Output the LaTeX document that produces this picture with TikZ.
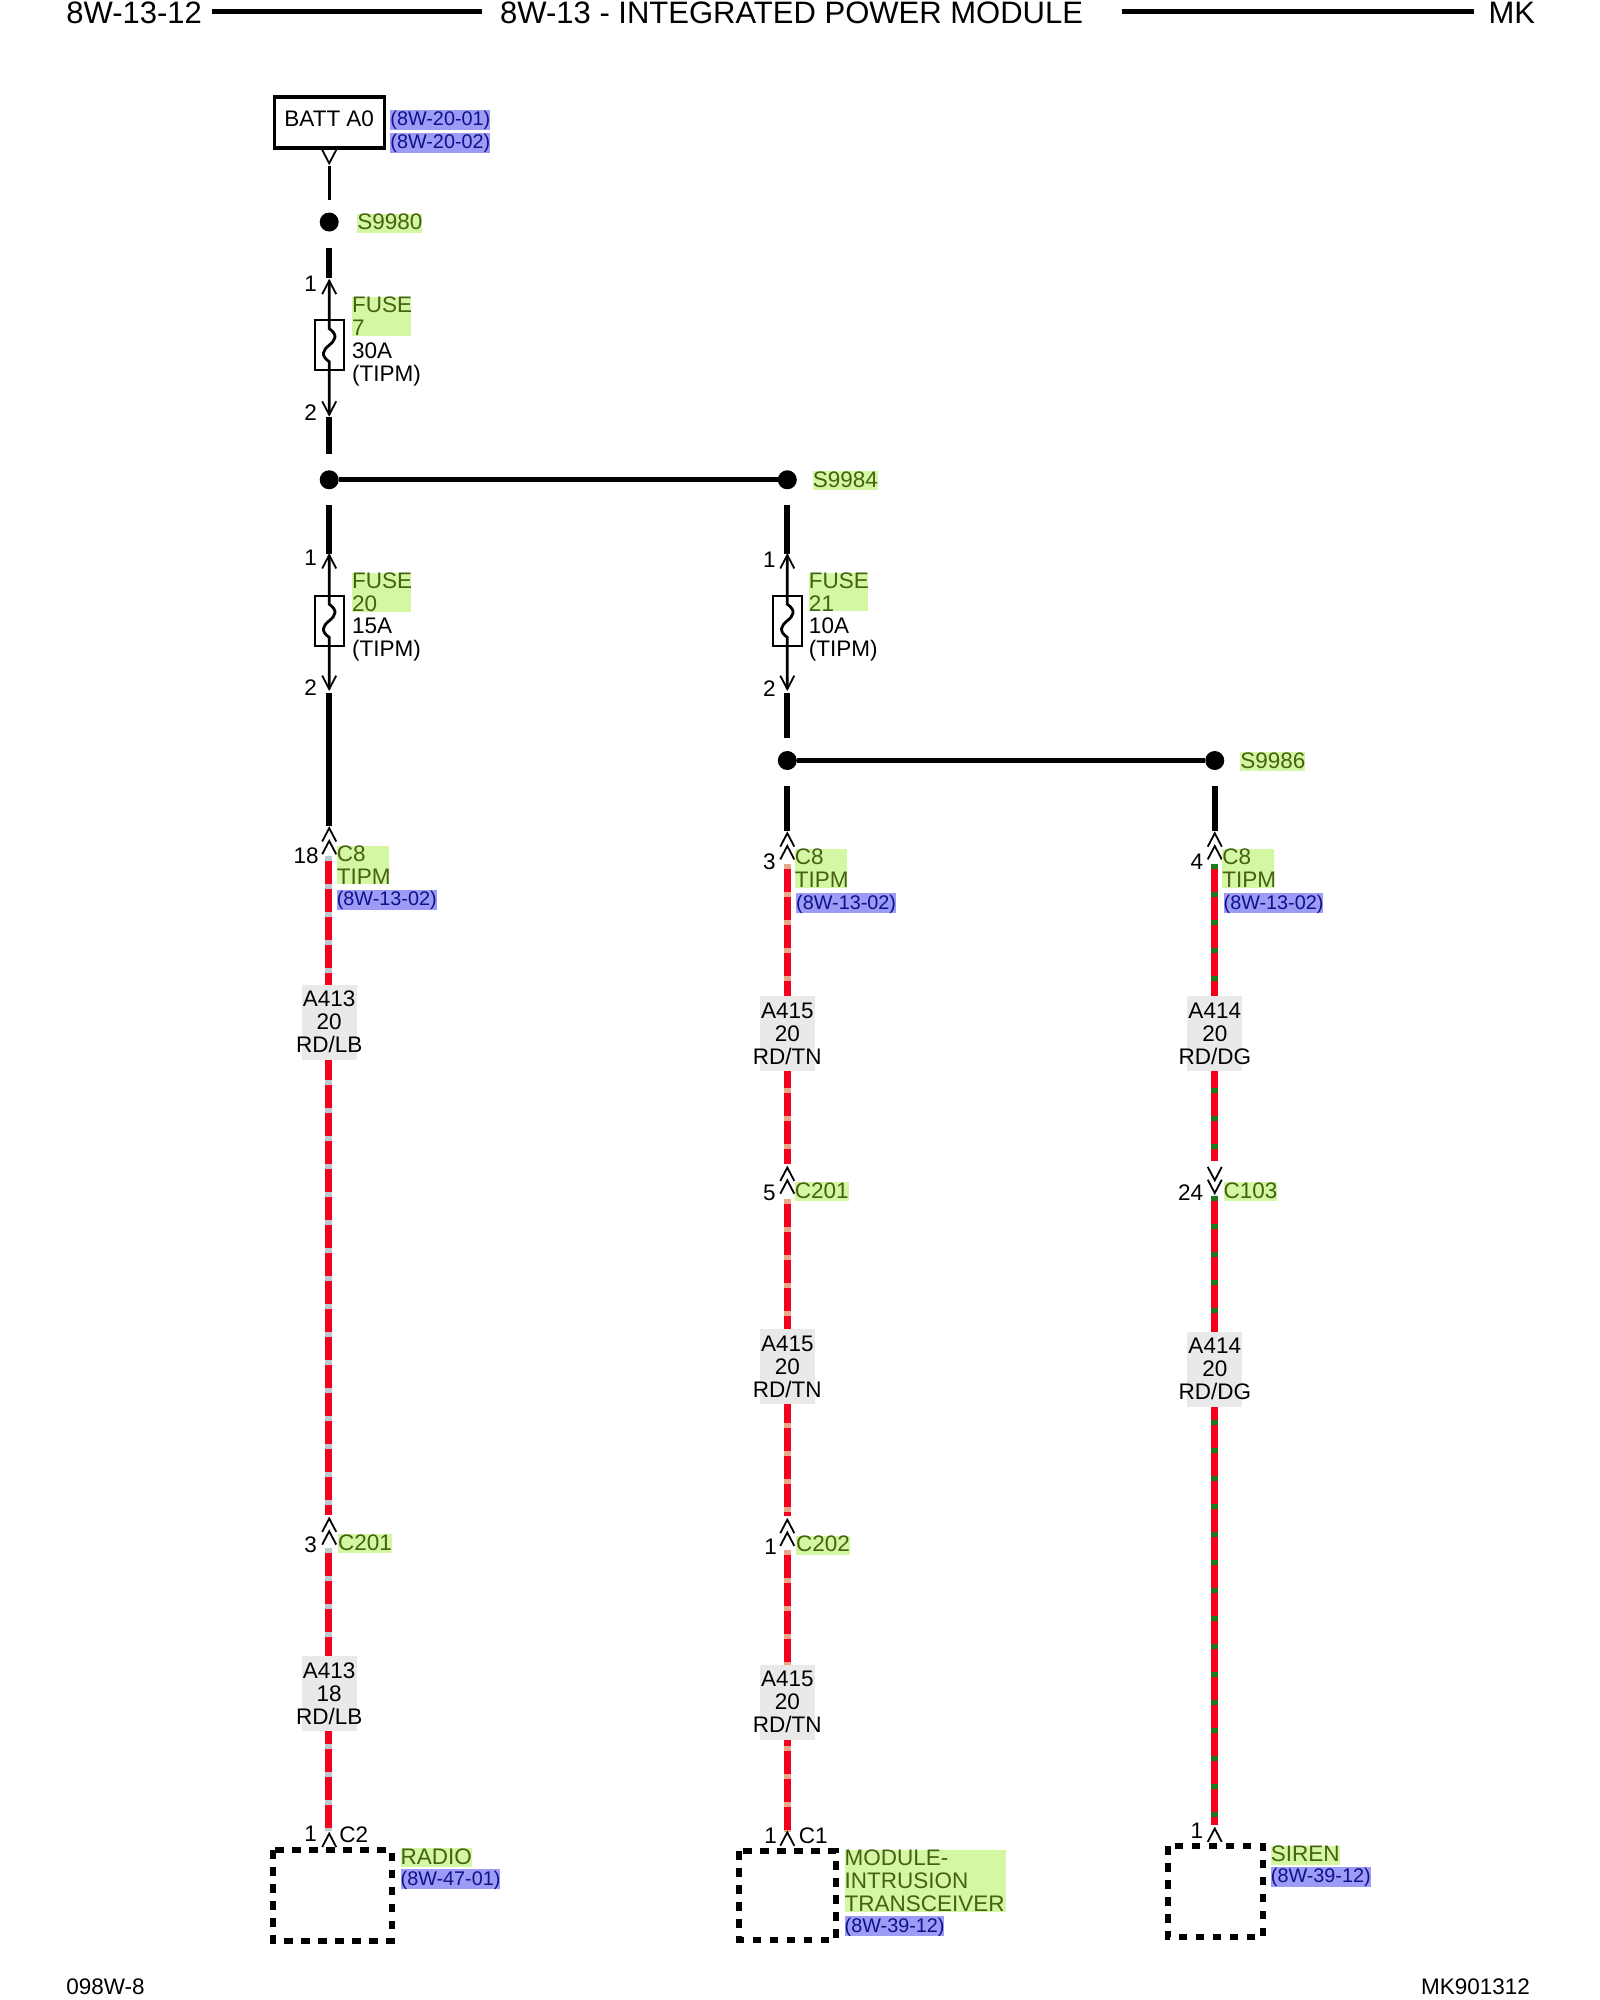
\documentclass[tikz,border=0pt]{standalone}
\usepackage{fontspec}
\setmainfont{Liberation Sans}
\definecolor{grnbg}{HTML}{D4F7A4}
\definecolor{grntx}{HTML}{456210}
\definecolor{blubg}{HTML}{9C9CF6}
\definecolor{blutx}{HTML}{10108A}
\definecolor{wgray}{HTML}{E9E9E9}
\definecolor{wred}{HTML}{F5001E}
\definecolor{trLB}{HTML}{BCCBCF}
\definecolor{trTN}{HTML}{E8A88C}
\definecolor{trDG}{HTML}{1C7A1C}
\newcommand{\mkclap}[1]{\makebox[0pt][c]{#1}}
\tikzset{
  txt/.style={inner sep=0pt,outer sep=0pt,anchor=west,align=left,font=\fontsize{22.5}{23}\selectfont},
  pinno/.style={inner sep=0pt,outer sep=0pt,font=\fontsize{22.5}{23}\selectfont},
  grn/.style={txt,fill=grnbg,text=grntx,text height=16pt,text depth=3pt,yshift=-1.2pt},
  grnm/.style={txt,fill=grnbg,text=grntx},
  blu/.style={txt,fill=blubg,text=blutx,font=\fontsize{19.8}{23}\selectfont,text height=16pt,text depth=4pt,yshift=-1.2pt},
  hdr/.style={inner sep=0pt,outer sep=0pt,font=\fontsize{31}{31}\selectfont},
  foot/.style={inner sep=0pt,outer sep=0pt,font=\fontsize{22.5}{23}\selectfont},
  dot/.style={circle,fill=black,inner sep=0pt,minimum size=19pt},
  thickw/.style={line width=5.8pt,black},
  thinw/.style={line width=2.8pt,black},
  busw/.style={line width=5pt,black},
  chev/.style={line width=1.8pt,black},
  wbase/.style={line width=6.6pt,wred},
  fusebox/.style={draw,line width=2pt,fill=white,inner sep=0pt,minimum width=29pt,minimum height=50pt},
  compbox/.style={draw,line width=6pt,dash pattern=on 8.5pt off 8.5pt,inner sep=0pt},
  wlab/.style={fill=wgray,inner sep=0pt,text width=55pt,minimum height=75pt,align=center,font=\fontsize{22.5}{23}\selectfont},
  battbox/.style={draw,line width=3.2pt,inner sep=0pt,minimum width=110pt,minimum height=51pt,font=\fontsize{22.5}{23}\selectfont},
}
\newcommand{\chevup}[2]{\draw[chev] (#1-5.5,#2+10.5) -- (#1,#2) -- (#1+5.5,#2+10.5);}
\newcommand{\chevdn}[2]{\draw[chev] (#1-5.5,#2-10.5) -- (#1,#2) -- (#1+5.5,#2-10.5);}
\newcommand{\wire}[3]{\draw[wbase] (#2) -- (#3); \draw[line width=6.6pt,#1,dash pattern=on 5pt off 23pt] (#2) -- (#3);}
\newcommand{\fuseat}[4]{% name, x, arrow top tip, box center
  \node[fusebox] (#1) at (#2,#4) {};
  \draw[thinw] (#2,#3) -- (#2,#4-13) .. controls (#2+7,#4-8) and (#2+5,#4-4) .. (#2,#4) .. controls (#2-5,#4+4) and (#2-7,#4+8) .. (#2,#4+13) -- (#2,#3+105);
  \chevup{#2}{#3}
  \chevdn{#2}{#3+105}
}
\begin{document}
\begin{tikzpicture}[x=1.276pt,y=-1.276pt]
\useasboundingbox (0,0) rectangle (1253.9,1567.4);
\fill[white] (0,0) rectangle (1253.9,1567.4);

% header
\node[hdr,anchor=west] (h1) at (52,10) {8W-13-12};
\node[hdr,anchor=west] (h2) at (392,10) {8W-13 - INTEGRATED POWER MODULE};
\node[hdr,anchor=east] (h3) at (1203,10) {MK};
\coordinate (l1a) at (166,9); \coordinate (l1b) at (378,9);
\coordinate (l2a) at (879,9); \coordinate (l2b) at (1155,9);
\draw[line width=5.5pt] (l1a) -- (l1b);
\draw[line width=5.5pt] (l2a) -- (l2b);
\node[foot,anchor=west] (f1) at (52,1557) {098W-8};
\node[foot,anchor=east] (f2) at (1199,1557) {MK901312};

% battery
\node[battbox] (batt) at (258,96) {\raisebox{7pt}{BATT A0}};
\node[blu] (bref1) at (306,93) {(8W-20-01)};
\node[blu] (bref2) at (306,111) {(8W-20-02)};
\chevdn{258}{128}
\coordinate (b1) at (258,130); \coordinate (b2) at (258,157);
\draw[thinw] (b1) -- (b2);

% splices
\node[dot] (s80) at (258,174) {};
\node[grn] (s80t) at (280,174) {S9980};
\node[dot] (s84a) at (258,376) {};
\node[dot] (s84b) at (617,376) {};
\node[grn] (s84t) at (637,376) {S9984};
\node[dot] (s86a) at (617,596) {};
\node[dot] (s86b) at (952,596) {};
\node[grn] (s86t) at (972,596) {S9986};
\draw[busw] (s84a) -- (s84b);
\draw[busw] (s86a) -- (s86b);

% thick black wires
\coordinate (k1a) at (258,194); \coordinate (k1b) at (258,218);
\coordinate (k2a) at (258,327); \coordinate (k2b) at (258,356);
\coordinate (k3a) at (258,396); \coordinate (k3b) at (258,434);
\coordinate (k4a) at (258,543); \coordinate (k4b) at (258,647);
\coordinate (k5a) at (617,396); \coordinate (k5b) at (617,434);
\coordinate (k6a) at (617,543); \coordinate (k6b) at (617,578);
\coordinate (k7a) at (617,616); \coordinate (k7b) at (617,651);
\coordinate (k8a) at (952,616); \coordinate (k8b) at (952,651);
\foreach \a/\b in {k1a/k1b,k2a/k2b,k3a/k3b,k4a/k4b,k5a/k5b,k6a/k6b,k7a/k7b,k8a/k8b}
  \draw[thickw] (\a) -- (\b);

% fuses
\fuseat{fu7}{258}{220}{270.5}
\node[pinno] (p71) at (243.5,222) {1};
\node[pinno] (p72) at (243.5,323) {2};
\node[grnm,text width=59pt] (fu7t) at (276,248) {FUSE\\7};
\node[txt] (fu7v) at (276,285.5) {30A\\(TIPM)};

\fuseat{fu20}{258}{435}{486.5}
\node[pinno] (p201) at (243.5,437) {1};
\node[pinno] (p202) at (243.5,539) {2};
\node[grnm,text width=59pt] (fu20t) at (276,464) {FUSE\\20};
\node[txt] (fu20v) at (276,501.5) {15A\\(TIPM)};

\fuseat{fu21}{617}{435}{486.5}
\node[pinno] (p211) at (603,439) {1};
\node[pinno] (p212) at (603,540) {2};
\node[grnm,text width=59pt] (fu21t) at (634,464) {FUSE\\21};
\node[txt] (fu21v) at (634,501.5) {10A\\(TIPM)};

% column 1 wires
\coordinate (w1a) at (257.5,671); \coordinate (w1b) at (257.5,1187);
\coordinate (w2a) at (257.5,1213); \coordinate (w2b) at (257.5,1435);
\wire{trLB}{w1a}{w1b}
\wire{trLB}{w2a}{w2b}
\chevup{258}{649} \chevup{258}{659}
\node[pinno] (c1n) at (240,671) {18};
\node[grnm,text width=52pt] (c1t) at (264,678) {C8\\TIPM};
\node[blu] (c1r) at (264,704) {(8W-13-02)};
\node[wlab] (l1) at (258,801) {\mkclap{A413}\\\mkclap{20}\\\mkclap{RD/LB}};
\chevup{258}{1190} \chevup{258}{1200}
\node[pinno] (c2n) at (243.5,1211) {3};
\node[grn] (c2t) at (265,1209) {C201};
\node[wlab] (l2) at (258,1327) {\mkclap{A413}\\\mkclap{18}\\\mkclap{RD/LB}};
\chevup{258}{1437}
\node[pinno] (c3n) at (243.5,1437) {1};
\node[pinno,anchor=west] (c3t) at (266,1437.5) {C2};
\coordinate (bx1a) at (214,1450); \coordinate (bx1b) at (307,1521);
\draw[compbox] (bx1a) rectangle (bx1b);
\node[grn] (rad) at (314,1455) {RADIO};
\node[blu] (radr) at (314,1472) {(8W-47-01)};

% column 2 wires
\coordinate (w3a) at (617,677); \coordinate (w3b) at (617,912);
\coordinate (w4a) at (617,940); \coordinate (w4b) at (617,1188);
\coordinate (w5a) at (617,1215); \coordinate (w5b) at (617,1436);
\wire{trTN}{w3a}{w3b}
\wire{trTN}{w4a}{w4b}
\wire{trTN}{w5a}{w5b}
\chevup{617}{653} \chevup{617}{663}
\node[pinno] (d1n) at (603,675) {3};
\node[grnm,text width=52pt] (d1t) at (623,680.5) {C8\\TIPM};
\node[blu] (d1r) at (624,707) {(8W-13-02)};
\node[wlab] (l3) at (617,810) {\mkclap{A415}\\\mkclap{20}\\\mkclap{RD/TN}};
\chevup{617}{915} \chevup{617}{925}
\node[pinno] (d2n) at (603,935) {5};
\node[grn] (d2t) at (623,933) {C201};
\node[wlab] (l4) at (617,1071) {\mkclap{A415}\\\mkclap{20}\\\mkclap{RD/TN}};
\chevup{617}{1191} \chevup{617}{1201}
\node[pinno] (d3n) at (604,1212) {1};
\node[grn] (d3t) at (624,1210) {C202};
\node[wlab] (l5) at (617,1334) {\mkclap{A415}\\\mkclap{20}\\\mkclap{RD/TN}};
\chevup{617}{1436}
\node[pinno] (d4n) at (604,1439) {1};
\node[pinno,anchor=west] (d4t) at (626,1439) {C1};
\coordinate (bx2a) at (579,1451); \coordinate (bx2b) at (655,1520);
\draw[compbox] (bx2a) rectangle (bx2b);
\node[grnm,text width=161pt] (mod) at (662,1474) {MODULE-\\INTRUSION\\TRANSCEIVER};
\node[blu] (modr) at (662,1508.5) {(8W-39-12)};

% column 3 wires
\coordinate (w6a) at (952,677); \coordinate (w6b) at (952,910);
\coordinate (w7a) at (952,937); \coordinate (w7b) at (952,1430);
\wire{trDG}{w6a}{w6b}
\wire{trDG}{w7a}{w7b}
\chevup{952}{653} \chevup{952}{663}
\node[pinno] (e1n) at (938,675) {4};
\node[grnm,text width=52pt] (e1t) at (958,680.5) {C8\\TIPM};
\node[blu] (e1r) at (959,707) {(8W-13-02)};
\node[wlab] (l6) at (952,810) {\mkclap{A414}\\\mkclap{20}\\\mkclap{RD/DG}};
\chevdn{952}{925} \chevdn{952}{935}
\node[pinno] (e2n) at (933,935) {24};
\node[grn] (e2t) at (959,933) {C103};
\node[wlab] (l7) at (952,1073) {\mkclap{A414}\\\mkclap{20}\\\mkclap{RD/DG}};
\chevup{952}{1433}
\node[pinno] (e3n) at (938,1435) {1};
\coordinate (bx3a) at (915,1447); \coordinate (bx3b) at (990,1518);
\draw[compbox] (bx3a) rectangle (bx3b);
\node[grn] (sir) at (996,1453) {SIREN};
\node[blu] (sirr) at (996,1470) {(8W-39-12)};
\end{tikzpicture}
\end{document}
